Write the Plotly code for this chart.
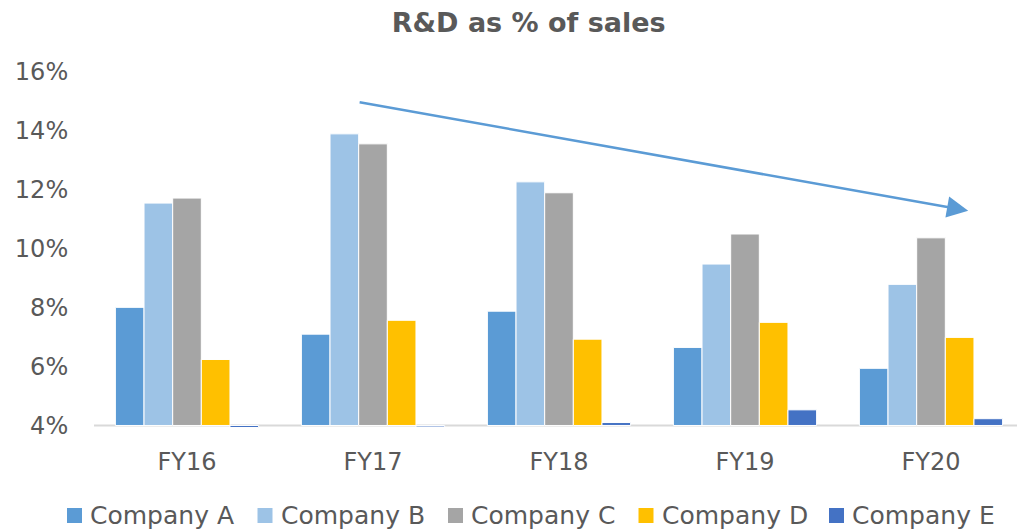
import plotly.graph_objects as go

categories = ["FY16", "FY17", "FY18", "FY19", "FY20"]
company_a = [8.01, 7.10, 7.88, 6.65, 5.94]
company_b = [11.55, 13.90, 12.27, 9.48, 8.79]
company_c = [11.72, 13.56, 11.90, 10.50, 10.37]
company_d = [6.24, 7.57, 6.93, 7.50, 6.99]
company_e = [3.93, 3.95, 4.10, 4.53, 4.23]
series_names = ["Company A", "Company B", "Company C", "Company D", "Company E"]
tick_values = [4, 6, 8, 10, 12, 14, 16]
tick_labels = ["4%", "6%", "8%", "10%", "12%", "14%", "16%"]

colors = ["#5b9bd5", "#9dc3e6", "#a5a5a5", "#ffc000", "#4472c4"]
BASE = 4
FONT = "DejaVu Sans"
GREY = "#595959"

W, H = 1017, 522
ML, MR, MT, MB = 86, 1, 64, 101
PW, PH = W - ML - MR, H - MT - MB

fig = go.Figure()
for name, vals, col in zip(series_names, [company_a, company_b, company_c, company_d, company_e], colors):
    fig.add_trace(go.Bar(
        x=categories, y=[v - BASE for v in vals], base=BASE, name=name,
        marker=dict(color=col, line=dict(color="white", width=1)),
        customdata=vals, hovertemplate="%{x}: %{customdata:.1f}%<extra>" + name + "</extra>",
        showlegend=False,
    ))

fig.add_shape(type="line", xref="paper", yref="y", x0=0, x1=1, y0=BASE, y1=BASE,
              line=dict(color="#d9d9d9", width=2), layer="below")

fig.add_annotation(x=4.20, y=11.29, ax=0.92, ay=14.98, xref="x", yref="y", axref="x", ayref="y",
                   showarrow=True, arrowhead=2, arrowsize=1.7, arrowwidth=2.5, arrowcolor="#5b9bd5", text="")

# manual legend (pixel layout converted to paper coordinates)
def px_x(p):
    return (p - ML) / PW

def px_y(p):
    return (H - MB - p) / PH

leg_start, leg_pitch, sq_w, sq_h, leg_cy = 59, 190.5, 15, 15, 507.5
for i, (name, col) in enumerate(zip(series_names, colors)):
    left = leg_start + i * leg_pitch
    fig.add_shape(type="rect", xref="paper", yref="paper",
                  x0=px_x(left), x1=px_x(left + sq_w), y0=px_y(leg_cy + sq_h / 2), y1=px_y(leg_cy - sq_h / 2),
                  fillcolor=col, line=dict(width=0))
    fig.add_annotation(x=px_x(left + sq_w + 6), y=px_y(leg_cy), xref="paper", yref="paper",
                       text=name, showarrow=False, xanchor="left", yanchor="middle",
                       font=dict(family=FONT, size=25, color=GREY))

fig.update_layout(
    width=W, height=H,
    margin=dict(l=ML, r=MR, t=MT, b=MB, autoexpand=False),
    paper_bgcolor="white", plot_bgcolor="white",
    barmode="group", bargap=0.23, bargroupgap=0,
    title=dict(text="<b>R&D as % of sales</b>", x=0.512, xanchor="center", y=0.973, yanchor="middle",
               font=dict(family=FONT, size=27, color=GREY)),
    font=dict(family=FONT, color=GREY),
    showlegend=False,
    xaxis=dict(showline=False, showgrid=False, ticks="outside", ticklen=11, tickcolor="rgba(0,0,0,0)",
               tickfont=dict(size=24, color=GREY)),
    yaxis=dict(range=[3.88, 16], tickmode="array", tickvals=tick_values, ticktext=tick_labels,
               showgrid=False, zeroline=False,
               showline=False, ticks="outside", ticklen=20, tickcolor="rgba(0,0,0,0)",
               tickfont=dict(size=24, color=GREY)),
)

fig.write_html("out.html")
